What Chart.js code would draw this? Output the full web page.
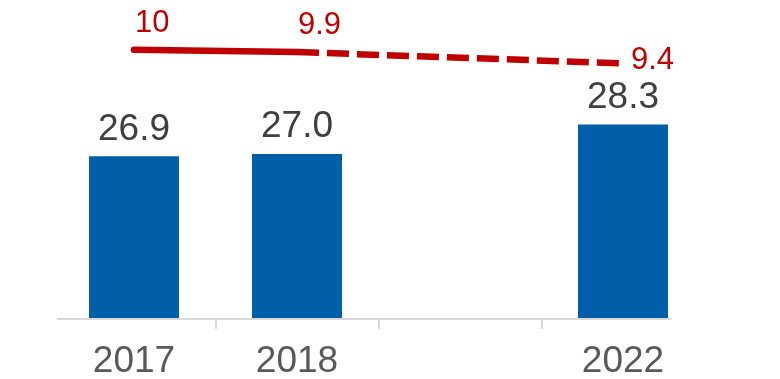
<!DOCTYPE html>
<html>
<head>
<meta charset="utf-8">
<script src="https://cdn.jsdelivr.net/npm/chart.js@4"></script>
<style>
  html, body { margin: 0; padding: 0; background: #fff; }
  #wrap { width: 780px; height: 379px; position: relative; }
</style>
</head>
<body>
<div id="wrap"><canvas id="c"></canvas></div>
<script>
const years = ["2017", "2018", "", "2022"]
const barValues = [26.9, 27.0, null, 28.3]
const lineValues = [10, 9.9, null, 9.4]

const FONT = "'Liberation Sans', Arial, sans-serif"

// baseline + value labels drawn on top of the library's geometry
const labelsPlugin = {
  id: "labels",
  afterDatasetsDraw(chart) {
    const { ctx, chartArea } = chart
    ctx.save()
    ctx.strokeStyle = "#d9d9d9"
    ctx.lineWidth = 2
    ctx.beginPath()
    ctx.moveTo(chartArea.left + 4.5, chartArea.bottom + 1)
    ctx.lineTo(chartArea.right - 33, chartArea.bottom + 1)
    ctx.stroke()

    const bars = chart.getDatasetMeta(0).data
    ctx.font = "37px " + FONT
    ctx.fillStyle = "#404040"
    ctx.textAlign = "center"
    ctx.textBaseline = "alphabetic"
    bars.forEach((bar, i) => {
      if (barValues[i] == null) return
      ctx.fillText(barValues[i].toFixed(1), bar.x, bar.y - 16.5)
    })

    const pts = chart.getDatasetMeta(1).data
    ctx.font = "31px " + FONT
    ctx.fillStyle = "#c00000"
    ctx.textAlign = "left"
    ctx.textBaseline = "alphabetic"
    pts.forEach((p, i) => {
      if (lineValues[i] == null) return
      const txt = String(lineValues[i])
      if (i === years.length - 1) {
        ctx.fillText(txt, p.x + 8, p.y + 6)
      } else {
        ctx.fillText(txt, p.x + 1, p.y - 18)
      }
    })
    ctx.restore()
  }
}

new Chart(document.getElementById("c"), {
  data: {
    labels: years,
    datasets: [
      {
        type: "bar",
        data: barValues,
        backgroundColor: "#005fa8",
        yAxisID: "y",
        barPercentage: 0.552,
        categoryPercentage: 1,
        order: 2
      },
      {
        type: "line",
        data: lineValues,
        yAxisID: "y2",
        borderColor: "#c00000",
        borderWidth: 6.5,
        borderCapStyle: "round",
        pointRadius: 0,
        spanGaps: true,
        tension: 0,
        order: 1,
        segment: {
          borderDash: ctx => ctx.p0DataIndex >= 1 ? [22, 8] : undefined,
          borderCapStyle: ctx => ctx.p0DataIndex >= 1 ? "butt" : "round"
        }
      }
    ]
  },
  options: {
    responsive: true,
    maintainAspectRatio: false,
    animation: false,
    layout: { padding: { left: 52.5, right: 75.5, top: 0, bottom: -15 } },
    plugins: { legend: { display: false }, tooltip: { enabled: false } },
    scales: {
      x: {
        offset: true,
        border: { display: false },
        grid: {
          offset: true,
          drawOnChartArea: false,
          drawTicks: true,
          tickLength: 11,
          lineWidth: 2,
          color: ctx => (ctx.type === "tick" && ctx.index > 0) ? "#d9d9d9" : "rgba(0,0,0,0)"
        },
        ticks: {
          color: "#595959",
          font: { family: FONT, size: 37, lineHeight: 1 },
          padding: 14,
          maxRotation: 0,
          autoSkip: false
        }
      },
      y: { display: false, min: 19.75, max: 33.8 },
      y2: { display: false, min: -1.85, max: 12.2 }
    }
  },
  plugins: [labelsPlugin]
})
</script>
</body>
</html>
